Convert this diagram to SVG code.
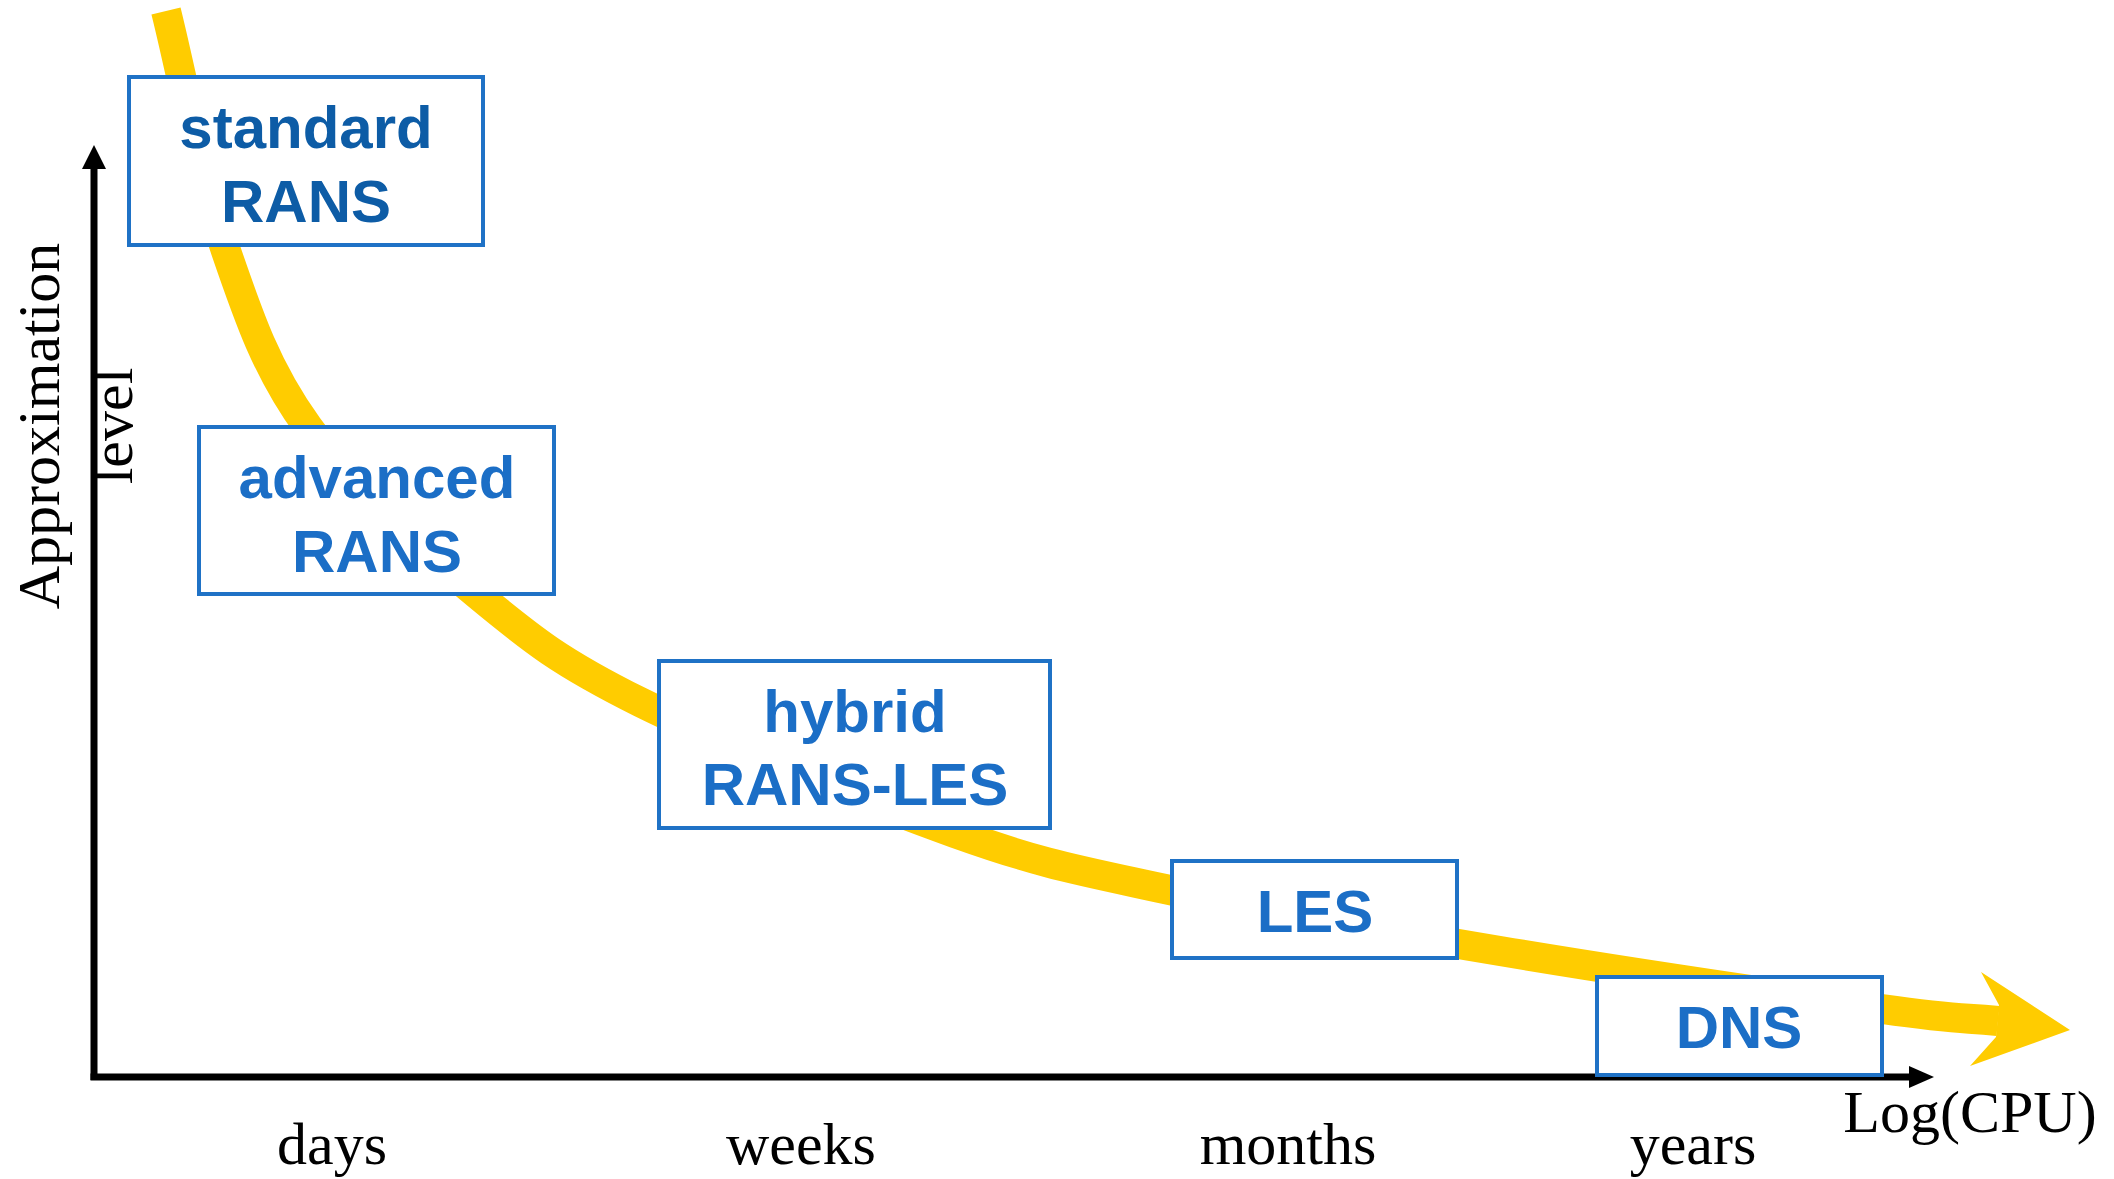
<svg xmlns="http://www.w3.org/2000/svg" width="2114" height="1179" viewBox="0 0 2114 1179">
<style>
.box{fill:#ffffff;stroke:#1f72c6;stroke-width:4}
.bt{font-family:"Liberation Sans",Arial,sans-serif;font-weight:bold;font-size:60px;fill:#1b6ec6;text-anchor:middle}
.bt.dark{fill:#0d5ca6}
.ax{font-family:"Liberation Serif","Times New Roman",serif;font-size:60px;fill:#000000}
.axl{stroke:#000000;stroke-width:7;fill:none}
</style>
<g id="axes">
<line class="axl" x1="94" y1="166" x2="94" y2="1080"/>
<polygon points="94,145 82,169 106,169" fill="#000"/>
<line class="axl" x1="90.5" y1="1077" x2="1912" y2="1077"/>
<polygon points="1934,1077 1909,1066 1909,1088" fill="#000"/>
</g>
<g id="connectors">
<path d="M166,11 C185.3,89 200.3,175.7 224,245 C247.7,314.3 265.7,368.7 308,427 C350.3,485.3 422.7,549.2 478,595 C533.3,640.8 560.5,662.3 640,702 C718.3,740.8 867.5,801.8 955,833 C1042.5,864.2 1074.2,869.3 1165,889 C1255.8,908.7 1380.5,931 1500,951 C1619.5,971 1799,997.3 1882,1009 C1965,1020.7 1959.3,1017 1998,1021" fill="none" stroke="#ffcc00" stroke-width="30"/>
<polygon points="1999,1005 1981,972 2070,1030 1970,1066 1996,1037" fill="#ffcc00"/>
</g>
<g id="node-standard-rans">
<rect class="box" x="129" y="77" width="354" height="168"/>
<text class="bt dark" x="306" y="148">standard</text>
<text class="bt dark" x="306" y="222">RANS</text>
</g>
<g id="node-advanced-rans">
<rect class="box" x="199" y="427" width="355" height="167"/>
<text class="bt" x="377" y="498">advanced</text>
<text class="bt" x="377" y="572">RANS</text>
</g>
<g id="node-hybrid">
<rect class="box" x="659" y="661" width="391" height="167"/>
<text class="bt" x="855" y="732">hybrid</text>
<text class="bt" x="855" y="805">RANS-LES</text>
</g>
<g id="node-les">
<rect class="box" x="1172" y="861" width="285" height="97"/>
<text class="bt" x="1315" y="932">LES</text>
</g>
<g id="node-dns">
<rect class="box" x="1597" y="977" width="285" height="98"/>
<text class="bt" x="1739" y="1048">DNS</text>
</g>
<g id="labels">
<text class="ax" text-anchor="middle" transform="translate(59,426) rotate(-90)">Approximation</text>
<text class="ax" text-anchor="middle" transform="translate(132,426) rotate(-90)">level</text>
<text class="ax" text-anchor="middle" x="332" y="1164">days</text>
<text class="ax" text-anchor="middle" x="801" y="1164">weeks</text>
<text class="ax" text-anchor="middle" x="1288" y="1164">months</text>
<text class="ax" text-anchor="middle" x="1693" y="1164">years</text>
<text class="ax" text-anchor="middle" x="1970" y="1132">Log(CPU)</text>
</g>
</svg>
